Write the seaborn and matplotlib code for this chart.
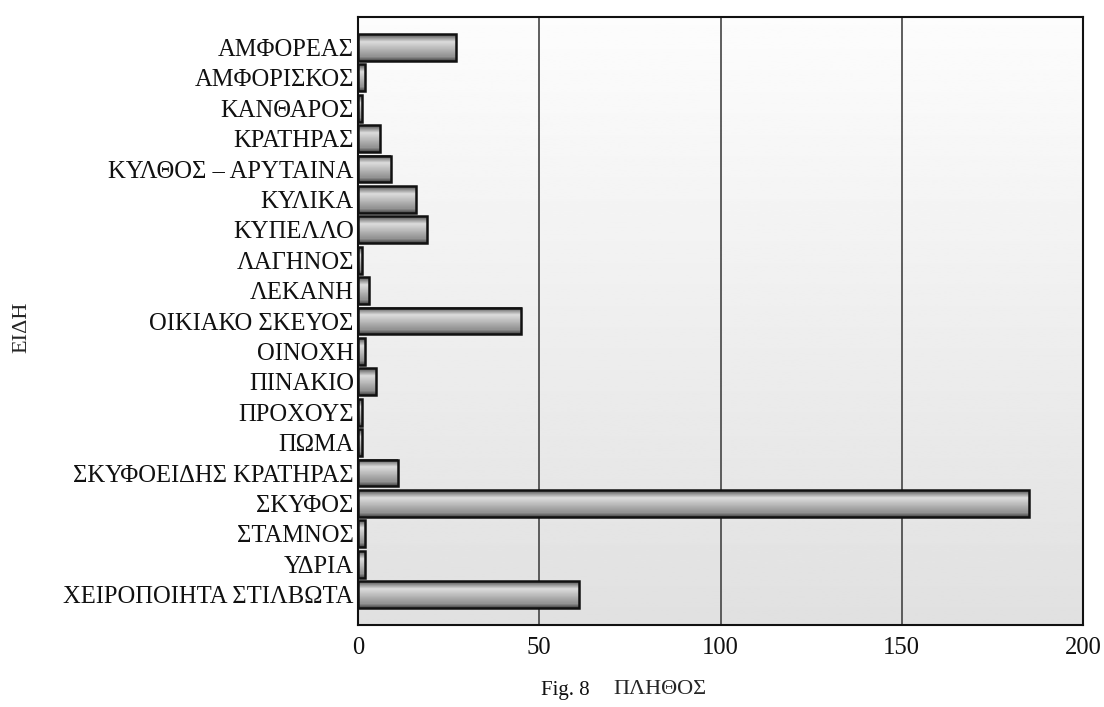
import matplotlib
matplotlib.use('Agg')
import matplotlib.pyplot as plt
import seaborn as sns
import numpy as np
import pandas as pd

# categories (top to bottom) and counts
kinds = ['ΑΜΦΟΡΕΑΣ', 'ΑΜΦΟΡΙΣΚΟΣ', 'ΚΑΝΘΑΡΟΣ', 'ΚΡΑΤΗΡΑΣ', 'ΚΥΛΘΟΣ – ΑΡΥΤΑΙΝΑ',
         'ΚΥΛΙΚΑ', 'ΚΥΠΕΛΛΟ', 'ΛΑΓΗΝΟΣ', 'ΛΕΚΑΝΗ', 'ΟΙΚΙΑΚΟ ΣΚΕΥΟΣ', 'ΟΙΝΟΧΗ',
         'ΠΙΝΑΚΙΟ', 'ΠΡΟΧΟΥΣ', 'ΠΩΜΑ', 'ΣΚΥΦΟΕΙΔΗΣ ΚΡΑΤΗΡΑΣ', 'ΣΚΥΦΟΣ',
         'ΣΤΑΜΝΟΣ', 'ΥΔΡΙΑ', 'ΧΕΙΡΟΠΟΙΗΤΑ ΣΤΙΛΒΩΤΑ']
counts = [27, 2, 1, 6, 9, 16, 19, 1, 3, 45, 2, 5, 1, 1, 11, 185, 2, 2, 61]
xticks = [0, 50, 100, 150, 200]

df = pd.DataFrame({'kind': kinds, 'count': counts})

sns.set_style('white')
plt.rcParams['font.family'] = ['Liberation Serif', 'DejaVu Serif']
plt.rcParams['text.color'] = '#111111'

fig = plt.figure(figsize=(11.04, 7.07), dpi=100)
ax = fig.add_axes([358 / 1104, 1 - 625 / 707, 725 / 1104, 608 / 707])

sns.barplot(data=df, x='count', y='kind', orient='h', width=0.88,
            facecolor='none', edgecolor='#111111', linewidth=1.8, ax=ax)

# background gradient (white top -> light gray bottom)
bg = np.linspace(0.99, 0.88, 256).reshape(-1, 1)
ax.imshow(bg, cmap='gray', vmin=0, vmax=1, aspect='auto', extent=(0, 1, 0, 1),
          transform=ax.transAxes, zorder=0, origin='upper')

# cylinder-like shading inside each bar
prof = np.concatenate([np.linspace(0.32, 0.85, 10), np.linspace(0.85, 0.58, 18),
                       np.linspace(0.58, 0.28, 6)]).reshape(-1, 1)
for p in ax.patches:
    x, y, w, h = p.get_x(), p.get_y(), p.get_width(), p.get_height()
    ax.imshow(prof, cmap='gray', vmin=0, vmax=1, aspect='auto',
              extent=(x, x + w, y + h, y), origin='upper', zorder=2.5)
    p.set_zorder(3)

ax.set_xlim(0, 200)
ax.set_ylim(len(kinds), -1)
ax.set_xticks(xticks)
ax.xaxis.grid(True, color='#444444', linewidth=1.2)
ax.yaxis.grid(False)
ax.set_axisbelow(True)

for s in ax.spines.values():
    s.set_visible(True)
    s.set_color('#111111')
    s.set_linewidth(1.5)

ax.tick_params(axis='x', length=6, width=1.2, color='#111111', labelsize=17.7,
               labelcolor='#111111', pad=3)
ax.tick_params(axis='y', length=0, labelsize=17.7, labelcolor='#111111', pad=3)

ax.set_xlabel('ΠΛΗΘΟΣ', fontsize=16, va='center')
ax.xaxis.set_label_coords((660 - 358) / 725, -(690 - 625) / 608)
ax.set_ylabel('ΕΙΔΗ', fontsize=16, va='center')
ax.yaxis.set_label_coords((22 - 358) / 725, 0.49)

fig.text(565 / 1104, 1 - 690 / 707, 'Fig. 8', fontsize=15, ha='center', va='center')

plt.savefig('out.png', dpi=100)
